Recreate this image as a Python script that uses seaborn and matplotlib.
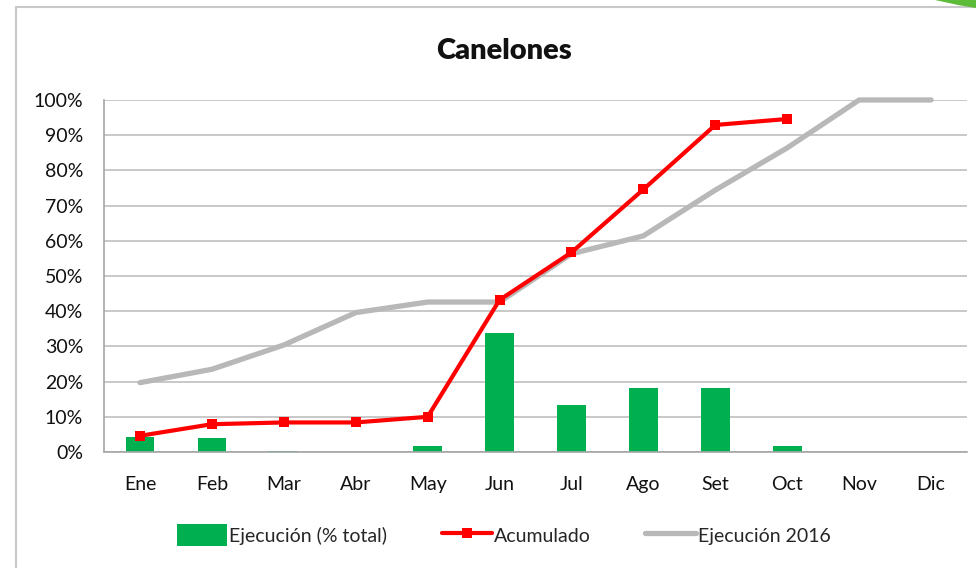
import numpy as np
import pandas as pd
import seaborn as sns
import matplotlib.pyplot as plt
from matplotlib.patches import Patch, Rectangle, Polygon
from matplotlib.lines import Line2D
from matplotlib.ticker import PercentFormatter

# values (in %)
meses = ["Ene", "Feb", "Mar", "Abr", "May", "Jun", "Jul", "Ago", "Set", "Oct", "Nov", "Dic"]
ejecucion = [4.3, 3.9, 0.3, 0.0, 1.7, 33.7, 13.4, 18.3, 18.3, 1.7, 0.0, 0.0]
acumulado = [4.6, 7.9, 8.4, 8.4, 10.0, 43.2, 56.7, 74.6, 92.9, 94.6, np.nan, np.nan]
ejec_2016 = [19.7, 23.5, 30.4, 39.6, 42.6, 42.6, 56.3, 61.4, 74.4, 86.4, 100.0, 100.0]

verde = "#00B050"
rojo = "#FF0000"
gris = "#B8B8B8"

df = pd.DataFrame({"Mes": meses, "Ejecucion": ejecucion,
                   "Acumulado": acumulado, "Ejec2016": ejec_2016})

sns.set_style("white")
plt.rcParams["font.family"] = ["Lato", "DejaVu Sans"]

fig = plt.figure(figsize=(9.76, 5.68), dpi=100)
ax = fig.add_axes([0.1066, 0.2042, 0.8842, 0.6198])

# bars
sns.barplot(data=df, x="Mes", y="Ejecucion", color=verde, saturation=1,
            width=0.4, ax=ax, zorder=2, edgecolor="none")

# lines
x_pos = np.arange(len(meses))
sns.lineplot(x=x_pos, y=df["Ejec2016"], color=gris, linewidth=3.8, ax=ax,
             zorder=3, sort=False, clip_on=False, solid_capstyle="round")
sns.lineplot(x=x_pos, y=df["Acumulado"], color=rojo, linewidth=3.0, marker="s",
             markersize=7, markeredgewidth=0, ax=ax, zorder=4, sort=False)

ax.set_xlim(-0.5, len(meses) - 0.5)
ax.set_ylim(0, 100)
ax.set_yticks(np.arange(0, 101, 10))
ax.yaxis.set_major_formatter(PercentFormatter(xmax=100, decimals=0))
ax.grid(axis="y", color="#BFBFBF", linewidth=1.2, zorder=0)
ax.set_axisbelow(True)
ax.set_xlabel("")
ax.set_ylabel("")
ax.tick_params(axis="both", length=0, labelsize=14, colors="#111111")
ax.tick_params(axis="x", pad=17)
ax.tick_params(axis="y", pad=15)
sns.despine(ax=ax, top=True, right=True)
for s in ("left", "bottom"):
    ax.spines[s].set_color("#A6A6A6")
    ax.spines[s].set_linewidth(1.2)

fig.text(0.516, 0.91, "Canelones", ha="center", va="center",
         fontsize=21, fontweight="heavy", color="#111111")

handles = [
    Patch(facecolor=verde, edgecolor="none"),
    Line2D([], [], color=rojo, linewidth=3.0, marker="s", markersize=7, markeredgewidth=0),
    Line2D([], [], color=gris, linewidth=3.8, solid_capstyle="round"),
]
labels = ["Ejecución (% total)", "Acumulado", "Ejecución 2016"]
fig.legend(handles, labels, loc="center", bbox_to_anchor=(0.516, 0.058), ncol=3,
           frameon=False, fontsize=14, handlelength=2.6, handleheight=1.3,
           handletextpad=0.1, columnspacing=2.8)

# slide frame and corner decoration
fig.patches.append(Rectangle((16 / 976, -0.1), 1.2, 1.1 - 7 / 568, transform=fig.transFigure,
                             fill=False, edgecolor="#C8C8C8", linewidth=1.5))
fig.patches.append(Polygon([(935 / 976, 1.0), (976 / 976, 1.0), (976 / 976, 1 - 8 / 568),
                            (958 / 976, 1 - 5 / 568)], closed=True, transform=fig.transFigure,
                           facecolor="#5DBB3A", edgecolor="none"))

fig.savefig("out.png", dpi=100)
